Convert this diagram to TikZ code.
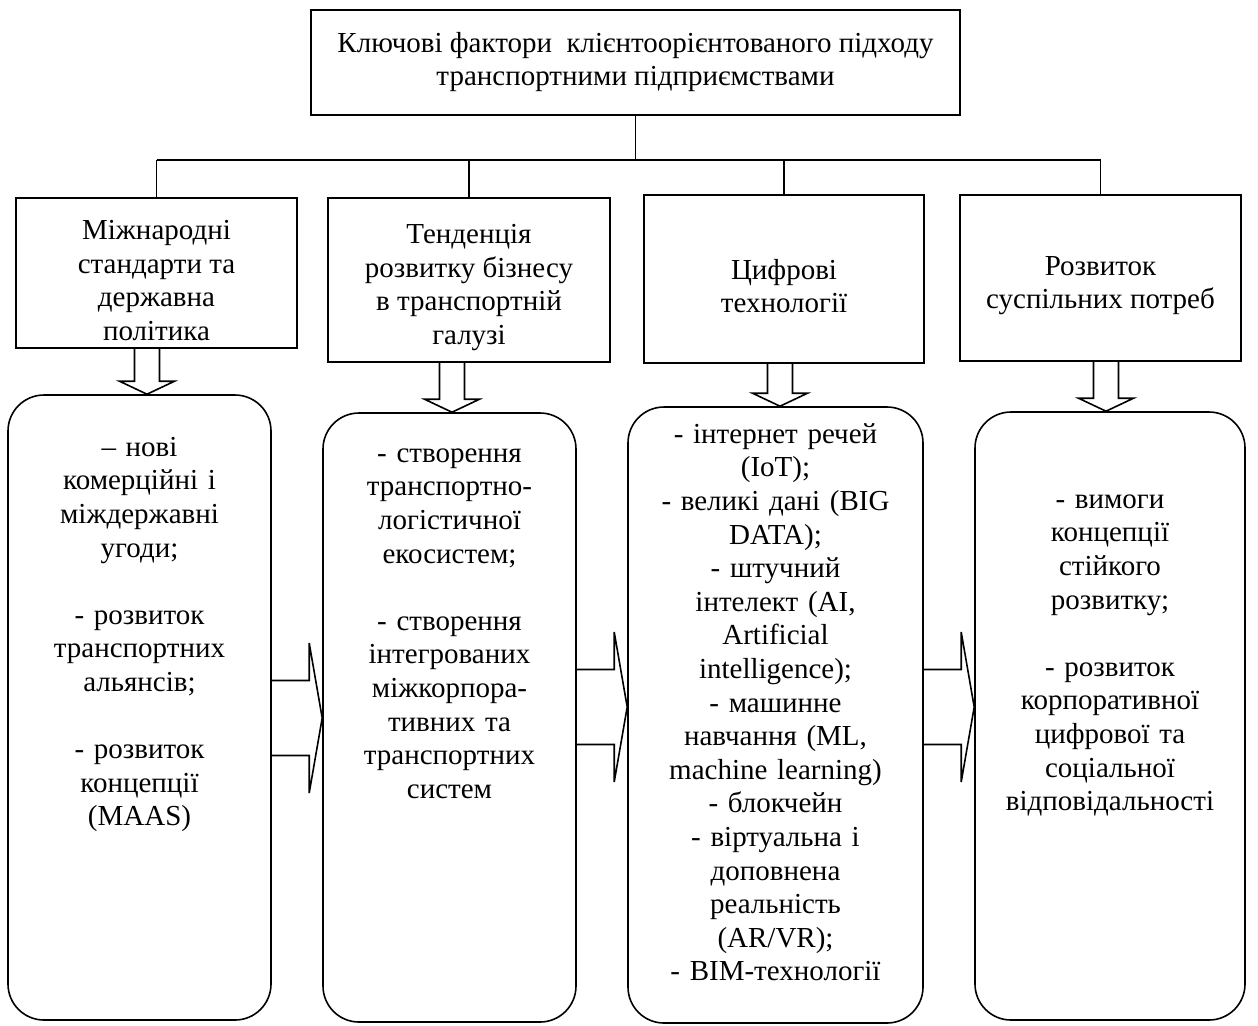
\documentclass[tikz,border=0pt]{standalone}
\usepackage{fontspec}
\setmainfont{Liberation Serif}
\usetikzlibrary{positioning,calc}

% block arrow pointing down: x of the arrow, upper node, lower node
\newcommand\dnarrow[3]{%
  \draw[blockarrow] let \p1=(#2.south), \p2=(#3.north), \p3=(#1,0) in
    (\x3-6.25pt,\y1) -- (\x3-6.25pt,\y2+6.5pt) -- (\x3-13.75pt,\y2+6.5pt) -- (\x3,\y2)
    -- (\x3+13.75pt,\y2+6.5pt) -- (\x3+6.25pt,\y2+6.5pt) -- (\x3+6.25pt,\y1);}
% block arrow pointing right: y of the arrow, left node, right node
\newcommand\rtarrow[3]{%
  \draw[blockarrow] let \p1=(#2.east), \p2=(#3.west), \p3=(0,#1) in
    (\x1,\y3+18.75pt) -- (\x2-6.5pt,\y3+18.75pt) -- (\x2-6.5pt,\y3+37.5pt) -- (\x2,\y3)
    -- (\x2-6.5pt,\y3-37.5pt) -- (\x2-6.5pt,\y3-18.75pt) -- (\x1,\y3-18.75pt);}
\newcommand\lowstrut{\rule{0pt}{17pt}}

\begin{document}
\begin{tikzpicture}[x=0.5pt,y=-0.5pt,
  every node/.style={font=\fontsize{14.5}{16.8}\selectfont},
  factor/.style={draw,line width=0.8pt,align=center,inner sep=2pt},
  listbox/.style={draw,line width=0.8pt,rounded corners=18pt},
  items/.style={align=center,text width=140pt,inner sep=0pt,anchor=base},
  blockarrow/.style={line width=0.8pt,line join=miter},
  link/.style={line width=0.8pt}]
  \useasboundingbox (0,0) rectangle (1258,1025);

  % title
  \node[factor,line width=1pt,minimum width=324.5pt,minimum height=52.5pt] (top) at (635.5,62)
    {Ключові фактори\ \ клієнтоорієнтованого підходу\\ транспортними підприємствами};

  % factors
  \node[factor,minimum width=140.5pt,minimum height=75pt] (fA) at (156.5,273)
    {\lowstrut Міжнародні\\ стандарти та\\ державна\\ політика};
  \node[factor,minimum width=141pt,minimum height=82pt] (fB) at (469,280)
    {\lowstrut Тенденція\\ розвитку бізнесу\\ в транспортній\\ галузі};
  \node[factor,minimum width=140pt,minimum height=84pt] (fC) at (784,279)
    {\lowstrut Цифрові\\ технології};
  \node[factor,minimum width=140.5pt,minimum height=83pt] (fD) at (1100.5,278)
    {\lowstrut Розвиток\\ суспільних потреб};

  % tree lines
  \coordinate (bus) at (636,160);
  \draw[link] (top.south) -- (top.south |- bus);
  \draw[link] (fA.north |- bus) -- (fD.north |- bus);
  \foreach \f in {fA,fB,fC,fD}
    \draw[link] (\f.north |- bus) -- (\f.north);

  % rounded lists
  \node[listbox,minimum width=131.5pt,minimum height=312.5pt] (rA) at (139.5,707.5) {};
  \node[listbox,minimum width=126.5pt,minimum height=304.5pt] (rB) at (449.5,717.5) {};
  \node[listbox,minimum width=147.5pt,minimum height=308pt] (rC) at (775.5,715) {};
  \node[listbox,minimum width=135pt,minimum height=304pt] (rD) at (1110,716) {};

  \node[items] (tA) at ($(rA.north)+(0,62)$)
    {– нові\\ комерційні і\\ міждержавні\\ угоди;\\[16.8pt]
     - розвиток\\ транспортних\\ альянсів;\\[16.8pt]
     - розвиток\\ концепції\\ (MAAS)};
  \node[items] (tB) at ($(rB.north)+(0,50)$)
    {- створення\\ транспортно-\\ логістичної\\ екосистем;\\[16.8pt]
     - створення\\ інтегрованих\\ міжкорпора-\\ тивних та\\ транспортних\\ систем};
  \node[items] (tC) at ($(rC.north)+(0,37)$)
    {- інтернет речей\\ (IoT);\\ - великі дані (BIG\\ DATA);\\ - штучний\\
     інтелект (AI,\\ Artificial\\ intelligence);\\ - машинне\\ навчання (ML,\\
     machine learning)\\ - блокчейн\\ - віртуальна і\\ доповнена\\ реальність\\
     (AR/VR);\\ - BIM-технології};
  \node[items] (tD) at ($(rD.north)+(0,97)$)
    {- вимоги\\ концепції\\ стійкого\\ розвитку;\\[16.8pt]
     - розвиток\\ корпоративної\\ цифрової та\\ соціальної\\ відповідальності};

  % block arrows
  \dnarrow{147}{fA}{rA}
  \dnarrow{452}{fB}{rB}
  \dnarrow{780}{fC}{rC}
  \dnarrow{1106}{fD}{rD}
  \rtarrow{718}{rA}{rB}
  \rtarrow{707}{rB}{rC}
  \rtarrow{707}{rC}{rD}
\end{tikzpicture}
\end{document}
